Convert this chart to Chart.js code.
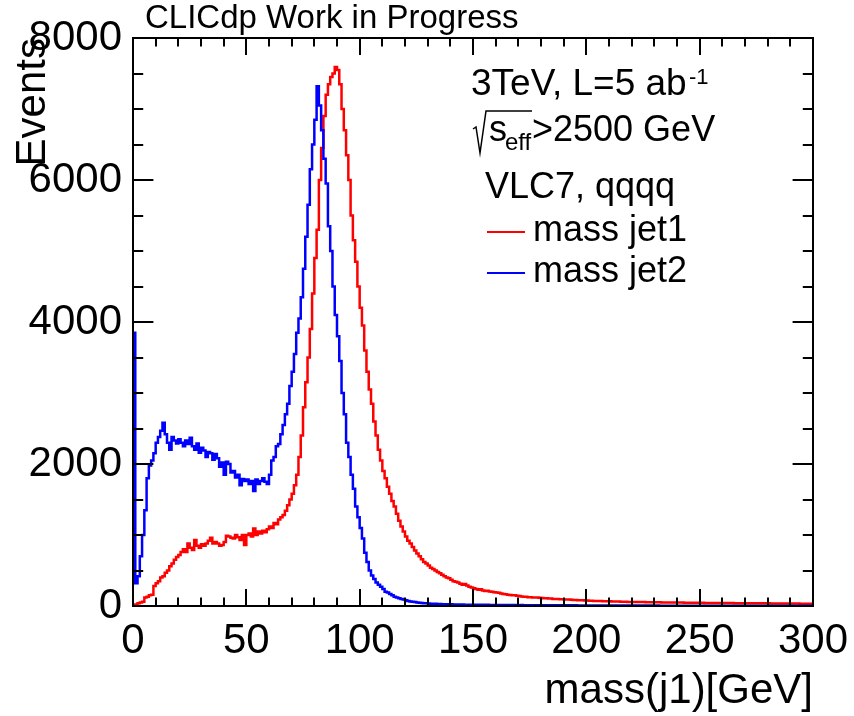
<!DOCTYPE html>
<html>
<head>
<meta charset="utf-8">
<script src="https://cdn.jsdelivr.net/npm/chart.js@4.4.1/dist/chart.umd.min.js"></script>
<style>
html,body{margin:0;padding:0;background:#fff;}
canvas{display:block;}
</style>
</head>
<body>
<canvas id="c" width="854" height="716"></canvas>
<script>
// ---- data (1 GeV bins, lower edges from 0 to 299) ----
const binStart = 0;
const binWidth = 1;
const jet1 = [
0,20,40,50,60,120,130,150,160,280,
320,350,400,420,470,500,560,600,650,690,
720,760,800,760,880,820,790,930,850,820,
870,850,880,920,960,880,900,880,850,860,
900,990,980,960,950,1000,970,930,1000,860,
1000,1020,980,1090,1000,1050,1020,1060,1040,1080,
1120,1100,1170,1150,1220,1250,1280,1340,1420,1500,
1580,1700,1850,2100,2400,2800,3150,3500,3900,4400,
4900,5300,6000,6450,6900,7200,7350,7450,7500,7590,
7550,7350,7000,6700,6350,6000,5500,5150,4850,4500,
4200,3950,3600,3300,3050,2850,2600,2400,2200,2050,
1900,1800,1680,1580,1480,1400,1300,1200,1120,1050,
980,920,880,830,780,740,700,660,620,600,
570,540,520,500,480,460,440,420,400,390,
370,350,340,330,315,300,310,290,270,260,
250,240,230,235,220,210,215,205,200,195,
190,185,175,170,165,160,155,150,150,145,
140,135,130,130,125,125,120,120,118,115,
112,110,110,105,105,100,100,98,95,95,
92,90,90,88,85,85,82,80,80,78,
76,75,74,72,72,70,70,68,68,66,
66,64,64,62,62,60,60,60,58,58,
57,57,56,56,55,55,54,54,53,53,
52,52,52,51,51,50,50,50,49,49,
48,48,48,47,47,47,46,46,46,45,
45,45,44,44,44,43,43,43,42,42,
42,42,41,41,41,40,40,40,40,39,
39,39,39,38,38,38,38,37,37,37,
37,36,36,36,36,35,35,35,35,35,
34,34,34,34,33,33,33,33,33,32
];
const jet2 = [
3850,320,420,700,1000,1350,1800,1980,2050,2150,
2300,2380,2470,2580,2420,2300,2200,2380,2330,2290,
2350,2300,2250,2330,2280,2370,2250,2200,2290,2160,
2230,2190,2100,2170,2150,2060,2140,2080,1960,2020,
1850,2030,2000,1880,1900,1810,1850,1700,1790,1760,
1780,1720,1760,1620,1780,1720,1760,1800,1750,1720,
1850,2050,2100,2250,2280,2420,2550,2700,2850,3100,
3300,3550,3850,4050,4350,4750,5200,5650,6150,6500,
6850,7320,7050,6700,6300,5950,5350,5000,4500,4100,
3800,3450,3000,2700,2300,2100,1850,1650,1400,1250,
1100,950,750,620,500,430,380,330,300,270,
240,200,190,170,150,130,120,110,100,90,
80,72,65,60,55,50,45,42,40,38,
35,33,32,30,28,27,26,25,24,24,
23,22,22,21,20,20,19,19,18,18,
17,17,16,17,16,15,16,15,15,14,
14,15,14,14,13,14,13,13,13,12,
12,13,12,12,12,11,12,11,11,11,
11,10,11,10,10,10,10,9,10,9,
9,9,9,9,8,9,8,8,8,8,
8,8,8,7,8,7,7,7,7,7,
7,7,7,7,6,7,6,7,6,6,
6,6,6,6,6,6,6,6,6,5,
5,6,5,5,5,5,5,5,5,5,
5,5,5,5,5,4,5,5,5,5,
5,5,5,4,5,5,5,4,5,5,
5,4,5,5,4,5,4,5,4,4,
4,4,5,4,4,4,4,4,4,4,
4,4,4,4,4,4,4,4,3,4,
4,4,3,4,4,3,4,3,4,3
];
const xTicks = [0,50,100,150,200,250,300];
const yTicks = [0,2000,4000,6000,8000];
const seriesNames = ['mass jet1','mass jet2'];
const seriesColors = ['#ff0000','#0000ff'];

const FONT = '"Liberation Sans", Arial, Helvetica, sans-serif';

function toSteps(vals){
  const pts = vals.map((v,i)=>({x: binStart + i*binWidth, y: v}));
  pts.push({x: binStart + vals.length*binWidth, y: vals[vals.length-1]});
  return pts;
}

const framePlugin = {
  id: 'rootFrame',
  afterDatasetsDraw(chart){
    const {ctx, chartArea: a, scales} = chart;
    const xs = scales.x, ys = scales.y;
    const h = a.bottom - a.top, w = a.right - a.left;
    ctx.save();
    ctx.strokeStyle = '#000';
    ctx.lineWidth = 2;
    ctx.lineCap = 'butt';
    ctx.beginPath();
    for (let v = 0; v <= 300; v += 10){
      const px = Math.round(xs.getPixelForValue(v));
      const L = (v % 50 === 0) ? 0.03*h : 0.015*h;
      ctx.moveTo(px, a.bottom); ctx.lineTo(px, a.bottom - L);
      ctx.moveTo(px, a.top); ctx.lineTo(px, a.top + L);
    }
    for (let v = 0; v <= 8000; v += 500){
      const py = Math.round(ys.getPixelForValue(v));
      const L = (v % 2000 === 0) ? 0.03*w : 0.015*w;
      ctx.moveTo(a.left, py); ctx.lineTo(a.left + L, py);
      ctx.moveTo(a.right, py); ctx.lineTo(a.right - L, py);
    }
    ctx.stroke();
    ctx.strokeRect(a.left, a.top, w, h);
    ctx.restore();
  },
  afterDraw(chart){
    const {ctx, chartArea: a} = chart;
    ctx.save();
    ctx.fillStyle = '#000';
    ctx.textBaseline = 'alphabetic';
    ctx.font = '33px ' + FONT;
    ctx.textAlign = 'left';
    ctx.fillText('CLICdp Work in Progress', 145, 28);
    ctx.font = '42px ' + FONT;
    ctx.textAlign = 'right';
    ctx.fillText('mass(j1)[GeV]', a.right, 703);
    ctx.save();
    ctx.translate(45, a.top);
    ctx.rotate(-Math.PI/2);
    ctx.textAlign = 'right';
    ctx.fillText('Events', 0, 0);
    ctx.restore();
    ctx.textAlign = 'left';
    ctx.font = '37px ' + FONT;
    ctx.fillText('3TeV, L=5 ab', 471, 95);
    ctx.font = '22px ' + FONT;
    ctx.fillText('-1', 689, 84);
    ctx.strokeStyle = '#000';
    ctx.lineWidth = 1.5;
    ctx.beginPath();
    ctx.moveTo(473, 129);
    ctx.lineTo(476, 127);
    ctx.lineTo(480, 153);
    ctx.lineTo(486, 111);
    ctx.lineTo(532, 111);
    ctx.stroke();
    ctx.font = '36px ' + FONT;
    ctx.fillText('s', 489, 141);
    ctx.font = '24px ' + FONT;
    ctx.fillText('eff', 505, 150);
    ctx.font = '36px ' + FONT;
    ctx.fillText('>2500 GeV', 532, 141);
    ctx.fillText('VLC7, qqqq', 485, 198);
    const rows = [232, 273];
    for (let i = 0; i < 2; i++){
      ctx.strokeStyle = seriesColors[i];
      ctx.lineWidth = 2;
      ctx.beginPath();
      ctx.moveTo(487, rows[i]); ctx.lineTo(525, rows[i]);
      ctx.stroke();
      ctx.fillStyle = '#000';
      ctx.fillText(seriesNames[i], 533, rows[i] + 9);
    }
    ctx.restore();
  }
};

new Chart(document.getElementById('c'), {
  type: 'line',
  data: {
    datasets: [
      {label: seriesNames[0], data: toSteps(jet1), borderColor: seriesColors[0], borderWidth: 2.5,
       stepped: 'before', pointRadius: 0, fill: false, tension: 0, order: 1},
      {label: seriesNames[1], data: toSteps(jet2), borderColor: seriesColors[1], borderWidth: 2.5,
       stepped: 'before', pointRadius: 0, fill: false, tension: 0, order: 0}
    ]
  },
  options: {
    responsive: false,
    animation: false,
    devicePixelRatio: 1,
    layout: {padding: {left: 0, right: 41, top: 38, bottom: 0}},
    plugins: {legend: {display: false}, tooltip: {enabled: false}, title: {display: false}},
    scales: {
      x: {
        type: 'linear', min: 0, max: 300,
        grid: {display: false, drawTicks: false},
        border: {display: false},
        afterBuildTicks(s){ s.ticks = xTicks.map(v => ({value: v})); },
        ticks: {font: {size: 42, family: FONT}, color: '#000', padding: 10, maxRotation: 0, autoSkip: false,
                callback: v => String(v)},
        afterFit(s){ s.height = 110; s.paddingLeft = 0; s.paddingRight = 0; }
      },
      y: {
        type: 'linear', min: 0, max: 8000,
        grid: {display: false, drawTicks: false},
        border: {display: false},
        afterBuildTicks(s){ s.ticks = yTicks.map(v => ({value: v})); },
        ticks: {font: {size: 42, family: FONT}, color: '#000', padding: 11, autoSkip: false,
                callback: v => String(v)},
        afterFit(s){ s.width = 133; s.paddingTop = 0; s.paddingBottom = 0; }
      }
    }
  },
  plugins: [framePlugin]
});
</script>
</body>
</html>
